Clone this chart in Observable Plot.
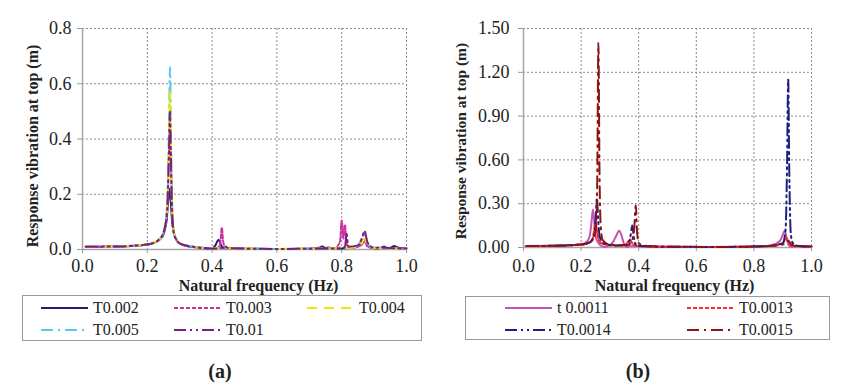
<!DOCTYPE html>
<html><head><meta charset="utf-8">
<script src="https://cdn.jsdelivr.net/npm/d3@7"></script>
<script src="https://cdn.jsdelivr.net/npm/@observablehq/plot@0.6"></script>
<style>
  body{margin:0;background:#fff;}
  #wrap{position:relative;width:850px;height:392px;background:#fff;font-family:"Liberation Serif","Times New Roman",serif;color:#222;}
  .panel{position:absolute;top:0;}
  .legend{position:absolute;border:1px solid #9a9a9a;box-sizing:border-box;background:#fff;}
  .item{position:absolute;display:flex;align-items:center;font-size:16px;height:20px;white-space:nowrap;}
  .item svg{margin-right:5px;}
  .cap{position:absolute;font-weight:bold;font-size:20px;transform:translate(-50%,-50%);}
</style></head>
<body><div id="wrap"></div>
<script>
// ---------- data ----------
const xTicks = [0, 0.2, 0.4, 0.6, 0.8, 1.0];
const yTicksA = [0, 0.2, 0.4, 0.6, 0.8];
const yTicksB = [0, 0.3, 0.6, 0.9, 1.2, 1.5];
const xLabel = "Natural frequency (Hz)";
const yLabel = "Response vibration at top (m)";

const namesA = ["T0.002", "T0.003", "T0.004", "T0.005", "T0.01"];
const namesB = ["t 0.0011", "T0.0013", "T0.0014", "T0.0015"];

const T0_002 = [[0.01,0.010],[0.05,0.010],[0.10,0.011],[0.15,0.013],[0.20,0.018],[0.22,0.024],[0.24,0.038],[0.25,0.055],[0.255,0.075],[0.26,0.11],[0.264,0.17],[0.268,0.22],[0.272,0.18],[0.276,0.11],[0.28,0.07],[0.29,0.035],[0.30,0.022],[0.32,0.013],[0.35,0.008],[0.38,0.005],[0.40,0.003],[0.41,0.015],[0.42,0.035],[0.428,0.015],[0.435,0.006],[0.45,0.004],[0.50,0.003],[0.60,0.002],[0.70,0.003],[0.73,0.006],[0.74,0.011],[0.75,0.005],[0.76,0.007],[0.77,0.004],[0.80,0.004],[0.84,0.008],[0.86,0.024],[0.87,0.038],[0.88,0.014],[0.89,0.006],[0.91,0.004],[0.925,0.007],[0.93,0.011],[0.94,0.004],[0.955,0.009],[0.962,0.013],[0.97,0.008],[0.98,0.005],[1.0,0.004]];
const T0_003 = [[0.01,0.010],[0.10,0.011],[0.20,0.018],[0.24,0.040],[0.255,0.085],[0.262,0.16],[0.267,0.35],[0.270,0.45],[0.273,0.30],[0.277,0.12],[0.282,0.06],[0.29,0.035],[0.30,0.022],[0.35,0.008],[0.40,0.003],[0.42,0.008],[0.426,0.03],[0.43,0.08],[0.434,0.03],[0.44,0.008],[0.45,0.004],[0.60,0.002],[0.78,0.005],[0.795,0.03],[0.80,0.105],[0.805,0.04],[0.81,0.09],[0.815,0.02],[0.83,0.006],[0.86,0.015],[0.87,0.03],[0.88,0.01],[0.92,0.005],[1.0,0.004]];
const T0_004 = [[0.01,0.009],[0.10,0.011],[0.20,0.018],[0.24,0.040],[0.255,0.085],[0.262,0.17],[0.267,0.40],[0.270,0.57],[0.273,0.36],[0.277,0.14],[0.282,0.065],[0.29,0.035],[0.30,0.022],[0.35,0.008],[0.40,0.003],[0.43,0.006],[0.45,0.004],[0.60,0.002],[0.78,0.004],[0.80,0.012],[0.82,0.005],[0.86,0.02],[0.87,0.04],[0.88,0.015],[0.90,0.005],[1.0,0.003]];
const T0_005 = [[0.01,0.009],[0.10,0.011],[0.20,0.018],[0.24,0.040],[0.255,0.085],[0.262,0.18],[0.267,0.45],[0.270,0.66],[0.273,0.42],[0.277,0.15],[0.282,0.065],[0.29,0.035],[0.30,0.022],[0.35,0.008],[0.40,0.003],[0.43,0.005],[0.45,0.004],[0.60,0.002],[0.78,0.004],[0.80,0.008],[0.82,0.005],[0.85,0.015],[0.87,0.052],[0.88,0.02],[0.90,0.006],[1.0,0.003]];
const T0_01 = [[0.01,0.010],[0.10,0.011],[0.20,0.018],[0.24,0.040],[0.255,0.085],[0.262,0.16],[0.267,0.36],[0.270,0.50],[0.273,0.33],[0.277,0.13],[0.282,0.06],[0.29,0.035],[0.30,0.022],[0.35,0.008],[0.40,0.003],[0.43,0.006],[0.44,0.012],[0.45,0.005],[0.60,0.002],[0.78,0.004],[0.81,0.008],[0.815,0.058],[0.82,0.01],[0.85,0.015],[0.865,0.05],[0.87,0.068],[0.88,0.025],[0.90,0.006],[0.93,0.008],[0.95,0.005],[1.0,0.004]];

const t0_0011 = [[0.01,0.010],[0.10,0.012],[0.15,0.014],[0.20,0.022],[0.22,0.04],[0.23,0.08],[0.236,0.17],[0.241,0.26],[0.245,0.20],[0.25,0.08],[0.26,0.03],[0.27,0.012],[0.28,0.003],[0.295,0.012],[0.31,0.035],[0.322,0.08],[0.332,0.115],[0.34,0.085],[0.348,0.03],[0.355,0.008],[0.36,0.002],[0.37,0.012],[0.40,0.01],[0.50,0.005],[0.60,0.003],[0.80,0.005],[0.86,0.015],[0.89,0.045],[0.90,0.085],[0.907,0.115],[0.913,0.07],[0.92,0.02],[0.93,0.005],[0.95,0.01],[1.0,0.008]];
const T0_0013 = [[0.01,0.010],[0.10,0.012],[0.20,0.02],[0.23,0.035],[0.24,0.06],[0.246,0.13],[0.25,0.19],[0.254,0.13],[0.26,0.06],[0.27,0.03],[0.30,0.016],[0.34,0.012],[0.355,0.02],[0.365,0.045],[0.37,0.055],[0.376,0.035],[0.385,0.015],[0.40,0.01],[0.50,0.005],[0.70,0.004],[0.85,0.01],[0.90,0.03],[0.913,0.065],[0.92,0.04],[0.93,0.012],[0.95,0.008],[1.0,0.006]];
const T0_0014 = [[0.01,0.010],[0.10,0.012],[0.20,0.02],[0.23,0.035],[0.245,0.08],[0.251,0.20],[0.255,0.34],[0.259,0.20],[0.265,0.07],[0.28,0.025],[0.32,0.014],[0.36,0.02],[0.37,0.06],[0.378,0.15],[0.383,0.07],[0.39,0.02],[0.40,0.01],[0.50,0.005],[0.70,0.004],[0.85,0.01],[0.90,0.03],[0.91,0.12],[0.915,0.55],[0.919,1.15],[0.923,0.50],[0.928,0.10],[0.935,0.03],[0.95,0.012],[1.0,0.006]];
const T0_0015 = [[0.01,0.010],[0.10,0.012],[0.20,0.02],[0.23,0.035],[0.245,0.07],[0.252,0.15],[0.256,0.45],[0.26,1.40],[0.264,0.50],[0.268,0.15],[0.275,0.05],[0.30,0.02],[0.36,0.015],[0.375,0.04],[0.384,0.12],[0.39,0.29],[0.394,0.12],[0.40,0.03],[0.42,0.012],[0.50,0.005],[0.70,0.004],[0.85,0.01],[0.90,0.02],[0.92,0.045],[0.93,0.02],[0.95,0.01],[1.0,0.006]];

// ---------- styles ----------
const FONT = '"Liberation Serif","Times New Roman",serif';
const seriesA = [
  {name: namesA[0], data: T0_002, color: "#1f1f78", dash: null},
  {name: namesA[1], data: T0_003, color: "#cc33a0", dash: "4,2"},
  {name: namesA[3], data: T0_005, color: "#5cc8e6", dash: "12,5,2,5"},
  {name: namesA[2], data: T0_004, color: "#f2e600", dash: "10,7"},
  {name: namesA[4], data: T0_01, color: "#7a1f7f", dash: "12,4,2,4,2,4"}
];
const seriesB = [
  {name: namesB[0], data: t0_0011, color: "#c454b4", dash: null},
  {name: namesB[1], data: T0_0013, color: "#ff2a2a", dash: "4,2"},
  {name: namesB[2], data: T0_0014, color: "#1f1f80", dash: "12,4,2,4,2,4"},
  {name: namesB[3], data: T0_0015, color: "#8c1414", dash: "12,5,2,5"}
];

function panel(series, yTicks, yFmt, cfg) {
  const marks = [
    Plot.gridX(xTicks.slice(1), {stroke: "#8a8a8a", strokeOpacity: 1, strokeDasharray: "2,2"}),
    Plot.gridY(yTicks.slice(1), {stroke: "#8a8a8a", strokeOpacity: 1, strokeDasharray: "2,2"}),
    Plot.ruleY([0], {stroke: "#a6a6a6", strokeWidth: 1.5}),
    Plot.ruleX([0], {stroke: "#a6a6a6", strokeWidth: 1.5}),
    Plot.axisX(xTicks, {tickFormat: d => d.toFixed(1), tickSize: 4, tickPadding: cfg.xPad, stroke: "#999", fill: "#222",
      fontSize: 18, fontFamily: FONT, label: null}),
    Plot.axisY(yTicks, {tickFormat: yFmt, tickSize: 5, tickPadding: cfg.yPad, stroke: "#999", fill: "#222",
      fontSize: 18, fontFamily: FONT, label: null}),
    ...series.map(s => Plot.line(s.data, {x: d => d[0], y: d => d[1], stroke: s.color, strokeWidth: 2,
      strokeDasharray: s.dash, curve: "monotone-x"})),
    Plot.text([yLabel], {text: d => d, frameAnchor: "left", textAnchor: "middle", lineAnchor: "middle",
      rotate: -90, dx: cfg.ydx, dy: cfg.ydy, fontWeight: "bold", fontSize: cfg.yfs, fontFamily: FONT, fill: "#222"}),
    Plot.text([xLabel], {text: d => d, frameAnchor: "bottom", textAnchor: "middle", lineAnchor: "middle",
      dx: cfg.xdx, dy: cfg.xdy, fontWeight: "bold", fontSize: 16, fontFamily: FONT, fill: "#222"})
  ];
  return Plot.plot({
    width: 425, height: 295,
    marginLeft: cfg.ml, marginRight: cfg.mr, marginTop: cfg.mt, marginBottom: cfg.mb,
    x: {domain: [0, 1]},
    y: {domain: [0, yTicks[yTicks.length - 1]]},
    style: {fontFamily: FONT, fontSize: "18px", background: "transparent", color: "#222", overflow: "visible"},
    marks
  });
}

const wrap = document.getElementById("wrap");
const pa = panel(seriesA, yTicksA, d => d.toFixed(1),
  {ml: 82, mr: 19, mt: 28, mb: 46, xPad: 6, yPad: 6, ydx: -50, ydy: 7, yfs: 16, xdx: 14, xdy: 36});
pa.classList.add("panel"); pa.style.left = "0px";
wrap.appendChild(pa);
const pb = panel(seriesB, yTicksB, d => d.toFixed(2),
  {ml: 98, mr: 39, mt: 28, mb: 48, xPad: 8, yPad: 9, ydx: -62, ydy: 3, yfs: 15.5, xdx: 7, xdy: 38});
pb.classList.add("panel"); pb.style.left = "425px";
wrap.appendChild(pb);

// ---------- legends ----------
function legend(items, box, positions) {
  const div = document.createElement("div");
  div.className = "legend";
  Object.assign(div.style, {left: box[0] + "px", top: box[1] + "px", width: box[2] + "px", height: box[3] + "px"});
  items.forEach((s, i) => {
    const [lx, ly] = positions[i];
    const it = document.createElement("div");
    it.className = "item";
    it.style.left = (lx - box[0]) + "px";
    it.style.top = (ly - box[1] - 10) + "px";
    it.innerHTML = `<svg width="47" height="6"><line x1="0" y1="3" x2="47" y2="3" stroke="${s.color}" stroke-width="2" ${s.dash ? `stroke-dasharray="${s.dash}"` : ""}/></svg><span>${s.name}</span>`;
    div.appendChild(it);
  });
  wrap.appendChild(div);
}
const legA = [seriesA[0], seriesA[1], seriesA[3], seriesA[2], seriesA[4]];
legend(legA, [22, 295, 400, 46], [[40, 307], [173, 307], [306, 307], [40, 329], [173, 329]]);
legend(seriesB, [465, 296, 365, 44], [[504, 307], [686, 307], [504, 329], [686, 329]]);

for (const [t, x] of [["(a)", 220], ["(b)", 638]]) {
  const c = document.createElement("div");
  c.className = "cap"; c.textContent = t;
  c.style.left = x + "px"; c.style.top = "371px";
  wrap.appendChild(c);
}
</script></body></html>
